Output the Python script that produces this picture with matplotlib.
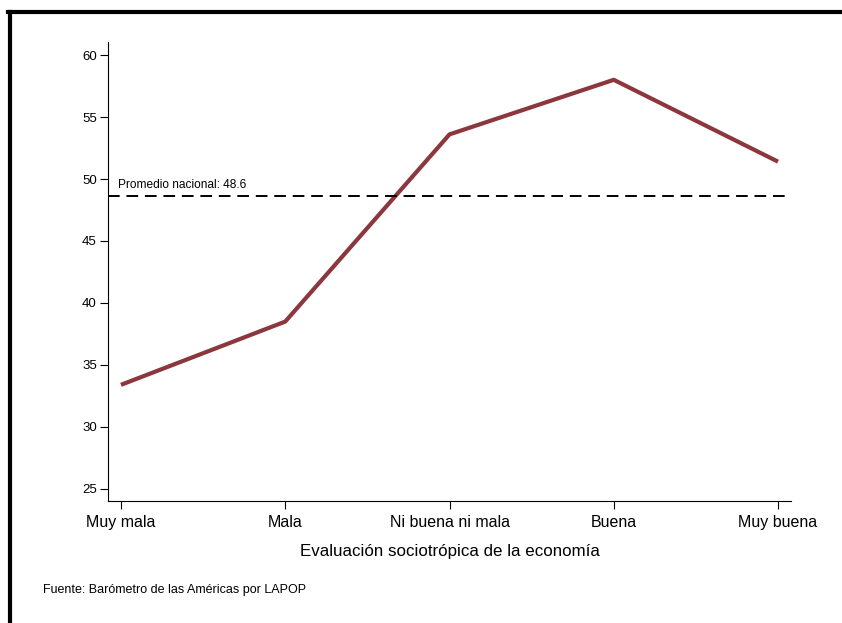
import matplotlib.pyplot as plt
from matplotlib.lines import Line2D

plt.rcParams['font.family'] = ['Liberation Sans', 'DejaVu Sans']

categorias = ['Muy mala', 'Mala', 'Ni buena ni mala', 'Buena', 'Muy buena']
valores = [33.4, 38.5, 53.6, 58.0, 51.4]
promedio = 48.6
yticks = [25, 30, 35, 40, 45, 50, 55, 60]

fig = plt.figure(figsize=(8.42, 6.23), dpi=100)
ax = fig.add_axes([108 / 842, 1 - 501 / 623, 683 / 842, 459 / 623])

x = list(range(len(categorias)))
ax.plot(x, valores, color='#8b373d', lw=3.0, solid_capstyle='butt')
ax.axhline(promedio, color='black', lw=1.4, ls=(0, (6, 3.5)))
ax.text(-0.02, promedio + 0.45, 'Promedio nacional: 48.6', fontsize=8.6, va='bottom', ha='left')

ax.set_xlim(-0.079, 4.079)
ax.set_ylim(24.03, 61.05)
ax.set_xticks(x)
ax.set_xticklabels(categorias, fontsize=11.5)
ax.set_yticks(yticks)
ax.tick_params(axis='y', labelsize=9.5, length=6, width=0.8, pad=2)
ax.tick_params(axis='x', length=6, width=0.8, pad=4)
ax.set_xlabel('Evaluación sociotrópica de la economía', fontsize=12.2, labelpad=10)

for s in ['top', 'right']:
    ax.spines[s].set_visible(False)
for s in ['left', 'bottom']:
    ax.spines[s].set_linewidth(0.8)

fig.text(43 / 842, 1 - 590 / 623, 'Fuente: Barómetro de las Américas por LAPOP', fontsize=9, va='center')

# marco superior e izquierdo
fig.add_artist(Line2D([8 / 842, 1], [1 - 11.5 / 623] * 2, color='black', lw=3, transform=fig.transFigure))
fig.add_artist(Line2D([10 / 842] * 2, [0, 1 - 11.5 / 623], color='black', lw=3, transform=fig.transFigure))

fig.savefig('out.png', dpi=100)
